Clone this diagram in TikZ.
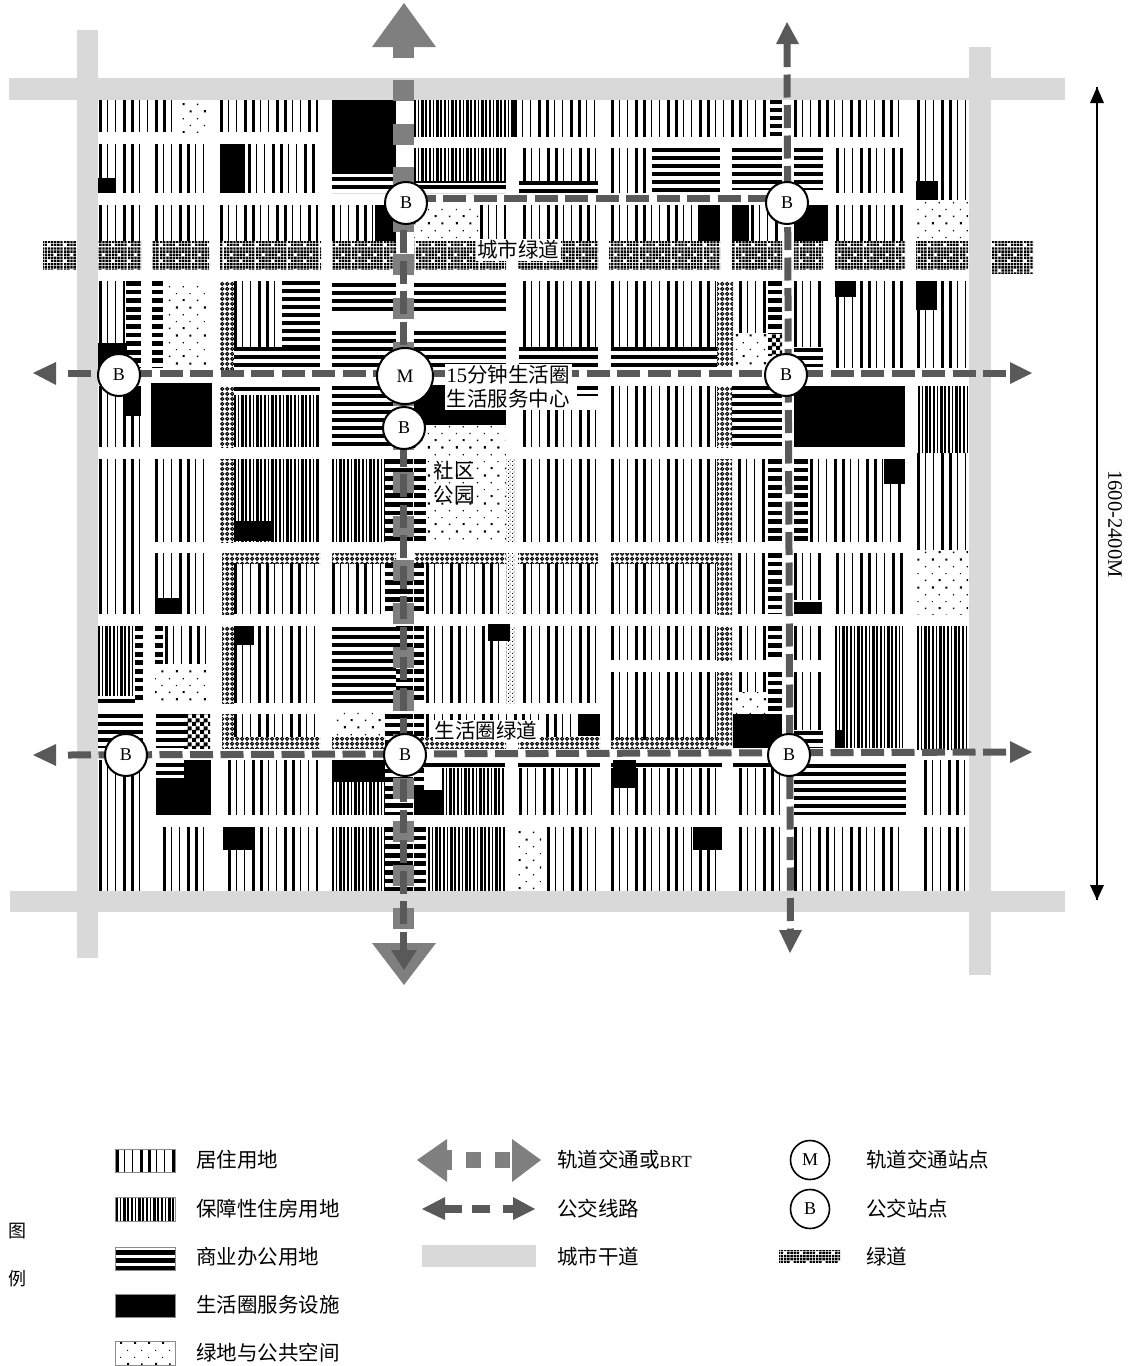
\documentclass[tikz,border=0pt]{standalone}
\usepackage{fontspec}
\setmainfont{Liberation Serif}
\newfontfamily\cjk{Noto Sans CJK SC}
\usetikzlibrary{patterns}
\definecolor{roadc}{HTML}{D9D9D9}
\definecolor{railc}{HTML}{7F7F7F}
\definecolor{busc}{HTML}{595959}
% patterns
\pgfdeclarepatternformonly{pubdots}{\pgfqpoint{0pt}{0pt}}{\pgfqpoint{28pt}{28pt}}{\pgfqpoint{28pt}{28pt}}{
 \pgfpathrectangle{\pgfqpoint{1pt}{1pt}}{\pgfqpoint{1.5pt}{1.5pt}}
 \pgfpathrectangle{\pgfqpoint{8pt}{8pt}}{\pgfqpoint{1.2pt}{1.2pt}}
 \pgfpathrectangle{\pgfqpoint{15pt}{1pt}}{\pgfqpoint{2pt}{2pt}}
 \pgfpathrectangle{\pgfqpoint{22pt}{8pt}}{\pgfqpoint{1.2pt}{1.2pt}}
 \pgfpathrectangle{\pgfqpoint{1pt}{15pt}}{\pgfqpoint{1.2pt}{1.2pt}}
 \pgfpathrectangle{\pgfqpoint{8pt}{22pt}}{\pgfqpoint{2.2pt}{2.2pt}}
 \pgfpathrectangle{\pgfqpoint{15pt}{15pt}}{\pgfqpoint{1.2pt}{1.2pt}}
 \pgfpathrectangle{\pgfqpoint{22pt}{22pt}}{\pgfqpoint{2pt}{2pt}}
 \pgfusepath{fill}}
\pgfdeclarepatternformonly{gwdense}{\pgfqpoint{0pt}{0pt}}{\pgfqpoint{32pt}{32pt}}{\pgfqpoint{32pt}{32pt}}{
 \foreach \i in {0,...,9}{\foreach \j in {0,...,9}{
  \pgfmathtruncatemacro{\sk}{or(and(or(\j==2,\j==7),mod(\i,5)==2),and(or(\j==0,\j==5),mod(\i,5)==0))}
  \ifnum\sk=0 \pgfpathrectangle{\pgfpoint{3.2pt*\i}{3.2pt*\j}}{\pgfqpoint{2.4pt}{2.4pt}}\fi
 }}
 \pgfusepath{fill}}
\pgfdeclarepatternformonly{gwlink}{\pgfqpoint{0pt}{0pt}}{\pgfqpoint{5pt}{5pt}}{\pgfqpoint{5pt}{5pt}}{
 \pgfsetlinewidth{1.2pt}
 \pgfpathcircle{\pgfqpoint{2.5pt}{2.5pt}}{1.8pt}
 \pgfusepath{stroke}}
\pgfdeclarepatternformonly{gwsmall}{\pgfqpoint{0pt}{0pt}}{\pgfqpoint{4pt}{4pt}}{\pgfqpoint{4pt}{4pt}}{
 \pgfpathrectangle{\pgfqpoint{0pt}{0pt}}{\pgfqpoint{1pt}{1pt}}
 \pgfpathrectangle{\pgfqpoint{2pt}{2pt}}{\pgfqpoint{1pt}{1pt}}
 \pgfusepath{fill}}
\pgfdeclarepatternformonly{gwcheck}{\pgfqpoint{0pt}{0pt}}{\pgfqpoint{8pt}{8pt}}{\pgfqpoint{8pt}{8pt}}{
 \pgfpathrectangle{\pgfqpoint{0pt}{0pt}}{\pgfqpoint{4.4pt}{4.4pt}}
 \pgfpathrectangle{\pgfqpoint{4pt}{4pt}}{\pgfqpoint{4.4pt}{4.4pt}}
 \pgfusepath{fill}}
% block helpers: x1 y1 x2 y2
\newcommand{\blkV}[4]{\pgfmathsetmacro\hh{#4-#2}\draw[line width=\hh pt,dash pattern=on 2.8 off 5.2 on 1.4 off 6.6 on 1.4 off 6.6 on 2.8 off 5.2] (#1,{(#2+#4)/2}) -- (#3,{(#2+#4)/2});}
\newcommand{\blkD}[4]{\pgfmathsetmacro\hh{#4-#2}\draw[line width=\hh pt,dash pattern=on 2.2 off 1.6 on 1.2 off 2.4 on 2.8 off 1.2 on 1.2 off 2.4] (#1,{(#2+#4)/2}) -- (#3,{(#2+#4)/2});}
\newcommand{\blkH}[4]{\pgfmathsetmacro\ww{#3-#1}\draw[line width=\ww pt,dash pattern=on 4 off 4] ({(#1+#3)/2},#2) -- ({(#1+#3)/2},#4);}
\newcommand{\blkW}[4]{\pgfmathsetmacro\ww{#3-#1}\draw[line width=\ww pt,dash pattern=on 4.8 off 3.8] ({(#1+#3)/2},#2) -- ({(#1+#3)/2},#4);}
\newcommand{\blkK}[4]{\fill[black] (#1,#2) rectangle (#3,#4);}
\newcommand{\blkP}[4]{\fill[pattern=pubdots] (#1,#2) rectangle (#3,#4);}
\newcommand{\blkG}[4]{\fill[pattern=gwdense] (#1,#2) rectangle (#3,#4);}
\newcommand{\blkL}[4]{\fill[pattern=gwlink] (#1,#2) rectangle (#3,#4);}
\newcommand{\blkS}[4]{\fill[pattern=gwsmall] (#1,#2) rectangle (#3,#4);}
\newcommand{\blkC}[4]{\fill[pattern=gwcheck] (#1,#2) rectangle (#3,#4);}
\tikzset{
 roadbar/.style={fill=roadc,draw=none},
 railline/.style={draw=railc,line width=21pt,dash pattern=on 21 off 22.6},
 busline/.style={draw=busc,line width=7pt,dash pattern=on 23 off 7.5},
 railhead/.style={fill=railc,draw=none},
 bushead/.style={fill=busc,draw=none},
 stopb/.style={circle,draw=black,line width=2pt,fill=white,minimum size=42pt,inner sep=0pt,font=\fontsize{18}{18}\selectfont},
 stopm/.style={circle,draw=black,line width=2pt,fill=white,minimum size=56pt,inner sep=0pt,font=\fontsize{19}{19}\selectfont},
 legstop/.style={circle,draw=black,line width=1.6pt,fill=white,minimum size=39pt,inner sep=0pt,font=\fontsize{18}{18}\selectfont},
 lab/.style={fill=white,inner sep=1.5pt,font=\cjk\fontsize{20.5}{24}\selectfont,align=center},
 leg/.style={anchor=west,inner sep=0pt,font=\cjk\fontsize{20.5}{24}\selectfont},
 swatch/.style={draw=black!45,line width=0.8pt}
}
\begin{document}
\begin{tikzpicture}[x=1pt,y=-1pt]
\useasboundingbox (0,0) rectangle (1129,1366);
% --- row 1
\blkV{99}{100}{176}{132}\blkP{179}{100}{206}{132}\blkV{220}{100}{318}{132}
\blkD{414}{100}{514}{137}\blkV{514}{100}{598}{137}
\blkV{611}{100}{768}{137}\blkH{770}{100}{782}{136}\blkV{794}{100}{903}{137}
\blkV{917}{100}{968}{200}
\blkK{332}{100}{396}{174}\blkH{332}{177}{393}{193}
% --- row 2
\blkV{99}{144}{141}{193}\blkK{98}{178}{116}{193}
\blkV{155}{144}{206}{193}
\blkV{248}{144}{318}{193}\blkK{220}{144}{245}{193}
\blkD{414}{148}{506}{181}\fill[black] (414,181) rectangle (506,183);\blkH{414}{185}{506}{193}
\blkV{523}{148}{598}{181}\blkH{519}{181}{598}{193}
\blkV{611}{148}{648}{193}\blkH{652}{148}{720}{193}
\blkH{732}{148}{782}{190}\blkH{794}{148}{823}{190}
\blkV{836}{148}{903}{193}
\blkK{916}{181}{938}{200}
% --- row 3
\blkV{99}{205}{141}{241}\blkV{155}{205}{206}{241}\blkV{220}{205}{318}{241}
\blkV{332}{205}{375}{241}\blkK{375}{205}{396}{241}
\blkP{414}{205}{478}{241}\blkV{480}{205}{506}{241}
\blkV{523}{205}{598}{241}
\blkV{611}{205}{696}{241}\blkK{698}{205}{720}{241}
\blkK{732}{205}{749}{241}\blkV{751}{205}{782}{241}
\blkK{794}{205}{828}{243}
\blkV{836}{205}{903}{241}
\blkP{916}{200}{968}{241}
% --- greenway
\fill[white] (43,241) rectangle (1033,269);
\blkG{43}{241}{76}{269}\blkG{98}{241}{141}{269}\blkG{152}{241}{209}{269}\blkG{220}{241}{321}{269}
\blkG{332}{241}{396}{269}\blkG{414}{241}{506}{269}\blkG{518}{241}{598}{269}\blkG{609}{241}{720}{269}
\blkG{732}{241}{782}{269}\blkG{794}{241}{823}{269}\blkG{835}{241}{905}{269}\blkG{916}{241}{968}{269}\blkG{991}{241}{1033}{273}
% --- row 4
\blkV{99}{281}{125}{345}\blkW{126}{281}{141}{368}\blkK{98}{343}{127}{373}
\blkW{152}{281}{163}{368}\blkP{164}{281}{206}{368}
\blkL{220}{281}{234}{370}\blkV{234}{281}{280}{347}\blkH{282}{281}{320}{347}\blkH{234}{347}{320}{370}
\blkH{332}{283}{396}{312}\blkH{332}{331}{396}{368}
\blkH{414}{283}{506}{312}\blkH{414}{331}{506}{368}
\blkV{523}{281}{598}{347}\blkH{519}{347}{598}{368}
\blkV{611}{281}{717}{347}\blkH{611}{347}{717}{367}\blkL{717}{281}{733}{365}
\blkV{739}{281}{768}{333}\blkP{733}{333}{768}{367}\blkW{768}{281}{782}{333}\blkC{768}{333}{782}{355}
\blkV{794}{281}{823}{347}\blkH{794}{348}{823}{367}
\blkV{836}{281}{903}{368}\blkK{835}{281}{856}{297}
\blkV{917}{281}{968}{368}\blkK{916}{281}{937}{310}
% --- row 5
\blkV{99}{386}{141}{447}\blkK{125}{386}{141}{416}
\blkK{151}{383}{212}{447}
\blkL{220}{387}{234}{447}\fill[black] (234,387) rectangle (320,391);\blkD{234}{395}{320}{447}
\blkH{332}{386}{396}{447}
\blkK{414}{385}{506}{425}\blkP{414}{426}{505}{447}
\blkV{523}{410}{598}{447}\blkH{577}{386}{598}{396}
\blkV{611}{386}{717}{447}\blkL{717}{386}{732}{447}\blkH{732}{386}{782}{447}
\blkK{794}{386}{905}{447}
\blkD{918}{386}{968}{453}
% --- row 6
\blkV{99}{459}{141}{614}
\blkV{155}{459}{206}{542}
\blkL{220}{459}{234}{542}\blkD{234}{459}{320}{542}\blkK{234}{521}{274}{541}
\blkD{332}{459}{385}{542}\blkW{385}{459}{413}{542}
\blkW{414}{459}{426}{542}\blkP{427}{447}{506}{542}\blkS{506}{459}{516}{542}
\blkV{523}{459}{598}{542}
\blkV{611}{459}{717}{542}\blkL{717}{459}{732}{542}
\blkV{738}{459}{768}{542}\blkW{768}{459}{782}{542}
\blkW{794}{459}{808}{542}\blkV{810}{459}{903}{542}\blkK{884}{459}{905}{484}
\blkV{917}{453}{968}{550}
% --- row 7
\blkV{155}{553}{206}{614}\blkK{155}{598}{180}{614}
\blkL{222}{553}{320}{563}\blkL{222}{563}{234}{614}\blkV{234}{563}{318}{614}
\blkL{332}{553}{396}{563}\blkV{332}{563}{385}{614}\blkW{385}{563}{413}{614}
\blkL{414}{553}{506}{563}\blkW{414}{563}{424}{614}\blkV{426}{563}{506}{614}\blkS{506}{553}{516}{614}
\blkL{518}{553}{598}{563}\blkV{523}{563}{598}{614}
\blkL{611}{553}{717}{563}\blkV{611}{563}{717}{614}\blkL{717}{553}{732}{614}
\blkV{738}{553}{768}{614}\blkW{768}{553}{782}{614}
\blkV{794}{553}{823}{600}\blkK{794}{602}{822}{614}
\blkV{836}{553}{903}{614}
\blkP{917}{550}{968}{614}
% --- row 8
\blkD{98}{626}{135}{696}\blkW{135}{626}{143}{703}\fill[black] (98,699) rectangle (135,703);
\blkW{155}{626}{163}{664}\blkV{165}{626}{206}{664}\blkP{155}{666}{206}{700}
\blkL{222}{626}{234}{703}\blkV{234}{626}{318}{703}\blkK{234}{626}{254}{645}
\blkH{332}{627}{396}{703}\blkW{396}{626}{413}{703}
\blkW{414}{626}{424}{703}\blkV{426}{626}{506}{703}\blkK{488}{624}{510}{641}\blkS{506}{626}{516}{703}
\blkV{523}{626}{598}{703}
\blkV{611}{626}{717}{660}\blkV{611}{672}{717}{740}
\blkL{717}{626}{732}{660}\blkL{717}{672}{732}{745}
\blkV{739}{626}{768}{660}\blkW{768}{626}{782}{660}\blkV{794}{626}{823}{660}
\blkV{739}{672}{768}{692}\blkP{733}{692}{768}{714}\blkW{768}{672}{782}{712}\blkV{794}{672}{823}{730}
\blkD{835}{626}{903}{748}\blkK{835}{730}{844}{748}
\blkD{917}{626}{968}{750}
% --- row 9
\blkH{98}{714}{143}{748}
\blkH{156}{714}{184}{748}\blkC{184}{714}{210}{748}
\blkL{222}{714}{234}{737}\blkV{234}{714}{318}{737}\blkL{222}{737}{320}{748}
\blkP{332}{712}{382}{737}\blkL{332}{737}{385}{748}\blkW{385}{714}{413}{748}
\blkW{414}{714}{424}{737}\blkL{414}{737}{506}{748}
\blkV{426}{714}{578}{737}\blkL{518}{737}{600}{748}\blkK{578}{714}{600}{736}
\blkL{611}{737}{717}{748}
\blkK{733}{714}{782}{748}\blkH{794}{731}{823}{748}
% --- row 10
\blkV{99}{760}{143}{891}
\blkH{156}{763}{184}{778}\blkK{156}{778}{211}{815}\blkK{184}{760}{211}{778}
\blkV{228}{760}{318}{815}
\blkD{332}{782}{385}{815}\blkK{332}{760}{385}{782}\blkW{385}{760}{413}{815}
\blkW{414}{768}{424}{790}\blkD{442}{768}{505}{815}\fill[black] (414,763) rectangle (505,767);\blkK{414}{790}{442}{815}
\fill[black] (518,763) rectangle (600,767);\blkV{519}{768}{598}{815}
\blkV{611}{768}{717}{815}\fill[black] (611,763) rectangle (722,767);\blkK{613}{760}{636}{788}
\blkV{739}{768}{782}{815}\fill[black] (733,763) rectangle (782,767);
\blkH{794}{764}{906}{815}
\blkV{924}{760}{968}{815}
% --- row 11
\blkV{163}{827}{206}{891}
\blkV{228}{827}{318}{891}\blkK{223}{827}{255}{850}
\blkD{332}{827}{385}{891}\blkW{385}{827}{413}{891}
\blkW{414}{827}{426}{891}\blkD{428}{827}{505}{891}
\blkP{516}{827}{541}{891}\blkV{547}{827}{598}{891}
\blkV{611}{827}{722}{891}\blkK{693}{827}{722}{850}
\blkV{739}{827}{782}{891}\blkV{794}{827}{903}{891}\blkV{924}{827}{968}{891}
% --- arterial roads
\fill[roadbar] (9,78) rectangle (1065,100);
\fill[roadbar] (10,891) rectangle (1065,912);
\fill[roadbar] (77,30) rectangle (98,958);
\fill[roadbar] (969,47) rectangle (991,975);
% --- rail line
\coordinate (railTop) at (403.5,80);
\coordinate (railEnd) at (403.5,930);
\draw[railline] (railTop) -- (railEnd);
\fill[railhead] (372,47) -- (404,3) -- (436,47) -- cycle;
\fill[railhead] (393,47) rectangle (414,58);
\fill[railhead] (372,943) -- (436,943) -- (404,985) -- cycle;
\fill[bushead] (391,950) -- (417,950) -- (404,970) -- cycle;
% --- bus lines
\coordinate (busVa) at (403.5,230);
\coordinate (busVb) at (403.5,950);
\coordinate (busHa) at (412.5,198);
\coordinate (busHb) at (787,198);
\coordinate (busMa) at (68,373);
\coordinate (busMb) at (1012,373);
\coordinate (busLa) at (68,755);
\coordinate (busLb) at (1012,752);
\coordinate (busRa) at (787,44);
\coordinate (busRb) at (790.5,932);
\draw[busline] (busVa) -- (busVb);
\draw[busline] (busHa) -- (busHb);
\draw[busline] (busMa) -- (busMb);
\draw[busline] (busLa) -- (busLb);
\draw[busline] (busRa) -- (busRb);
\fill[bushead] (33,373) -- (56,362) -- (56,385) -- cycle;
\fill[bushead] (1032,373) -- (1010,362) -- (1010,384) -- cycle;
\fill[bushead] (33,755) -- (56,744) -- (56,766) -- cycle;
\fill[bushead] (1032,752) -- (1010,741) -- (1010,763) -- cycle;
\fill[bushead] (787,22) -- (776,44) -- (799,44) -- cycle;
\fill[bushead] (790,953) -- (779,930) -- (802,930) -- cycle;
% --- labels on the plan
\node[lab] (lCity) at (518,250) {城市绿道};
\node[lab,inner sep=2pt] (lCenter) at (508,387) {{\rmfamily 15}分钟生活圈\\生活服务中心};
\node[lab,fill=none] (lPark) at (454,483) {社区\\公园};
\node[lab] (lLife) at (486,731) {生活圈绿道};
% --- stops
\node[stopb] (b1) at (406,203) {B};
\node[stopb] (b2) at (787,203) {B};
\node[stopb] (b3) at (119,375) {B};
\node[stopb] (b4) at (786,375) {B};
\node[stopb] (b5) at (404,428) {B};
\node[stopb] (b6) at (126,755) {B};
\node[stopb] (b7) at (405,755) {B};
\node[stopb] (b8) at (789,755) {B};
\node[stopm] (m1) at (405,376) {M};
% --- dimension
\coordinate (dimA) at (1097,87);
\coordinate (dimB) at (1097,900);
\draw[line width=1.8pt] (dimA) -- (dimB);
\fill (1097,87) -- (1090,103) -- (1104,103) -- cycle;
\fill (1097,900) -- (1090,885) -- (1104,885) -- cycle;
\node[rotate=-90,font=\fontsize{20.5}{22}\selectfont] (dimT) at (1115,524) {1600-2400M};
% --- legend
\node[font=\cjk\fontsize{18}{20}\selectfont,inner sep=0pt] (t1) at (18,1231) {图};
\node[font=\cjk\fontsize{18}{20}\selectfont,inner sep=0pt] (t2) at (18,1279) {例};
\blkV{116}{1149}{175}{1172}\draw[swatch] (115,1149) rectangle (175,1172);
\blkD{116}{1197}{175}{1221}\draw[swatch] (115,1197) rectangle (175,1221);
\draw[line width=60pt,dash pattern=on 5 off 3 on 5 off 3 on 5 off 2] (145,1250) -- (145,1270);
\draw[swatch] (115,1247) rectangle (175,1270);
\blkK{115}{1294}{175}{1317}\draw[swatch] (115,1294) rectangle (175,1317);
\blkP{116}{1341}{175}{1365}\draw[swatch] (115,1341) rectangle (175,1365);
\node[leg] (a1) at (196,1160) {居住用地};
\node[leg] (a2) at (196,1209) {保障性住房用地};
\node[leg] (a3) at (196,1257) {商业办公用地};
\node[leg] (a4) at (196,1305) {生活圈服务设施};
\node[leg] (a5) at (196,1353) {绿地与公共空间};
% rail key
\fill[railhead] (417,1160) -- (447,1139) -- (447,1182) -- cycle;
\fill[railhead] (447,1150) rectangle (452,1170);
\fill[railhead] (466,1152) rectangle (481,1168);
\fill[railhead] (495,1152) rectangle (510,1168);
\fill[railhead] (512,1139) -- (541,1160) -- (512,1182) -- cycle;
% bus key
\fill[bushead] (422,1209) -- (445,1197) -- (445,1220) -- cycle;
\fill[bushead] (445,1205) rectangle (462,1213);
\fill[bushead] (472,1205) rectangle (490,1213);
\fill[bushead] (503,1205) rectangle (513,1213);
\fill[bushead] (513,1197) -- (535,1209) -- (513,1220) -- cycle;
\fill[roadbar] (422,1245) rectangle (536,1267);
\node[leg] (c1) at (557,1160) {轨道交通或{\rmfamily\fontsize{17}{20}\selectfont BRT}};
\node[leg] (c2) at (557,1209) {公交线路};
\node[leg] (c3) at (557,1257) {城市干道};
\node[legstop] (k1) at (810,1160) {M};
\node[legstop] (k2) at (810,1209) {B};
\blkG{779}{1250}{840}{1262}
\node[leg] (d1) at (866,1160) {轨道交通站点};
\node[leg] (d2) at (866,1209) {公交站点};
\node[leg] (d3) at (866,1257) {绿道};
\end{tikzpicture}
\end{document}
